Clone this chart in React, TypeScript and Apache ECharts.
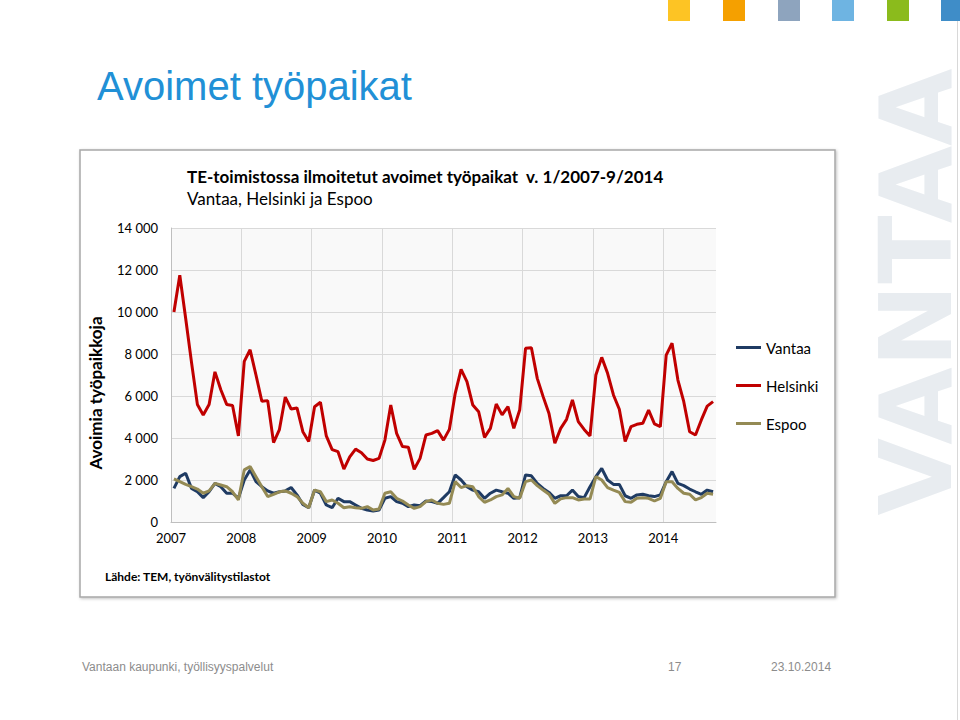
import React, { useEffect, useRef } from "react";
import * as echarts from "echarts";

const years = [2007, 2008, 2009, 2010, 2011, 2012, 2013, 2014];
const lastMonth2014 = 9;

const vantaa = [
  1600, 2160, 2320, 1600, 1440, 1160, 1440, 1840, 1680, 1370, 1370, 1130,
  2000, 2480, 1920, 1680, 1480, 1370, 1440, 1480, 1640, 1290, 840, 680,
  1520, 1370, 810, 680, 1130, 970, 970, 810, 650, 570, 520, 570,
  1130, 1210, 970, 890, 730, 810, 780, 1000, 970, 890, 1160, 1440,
  2240, 2000, 1680, 1520, 1440, 1130, 1370, 1520, 1440, 1370, 1130, 1160,
  2240, 2200, 1840, 1600, 1410, 1130, 1250, 1250, 1520, 1210, 1160, 1680,
  2160, 2550, 2000, 1790, 1790, 1250, 1130, 1290, 1320, 1250, 1210, 1290,
  1920, 2400, 1840, 1730, 1570, 1440, 1320, 1520, 1440,
];

const helsinki = [
  10000, 11750, 9700, 7600, 5600, 5100, 5600, 7150, 6300, 5600, 5550, 4100,
  7650, 8200, 7000, 5750, 5780, 3780, 4400, 5950, 5380, 5430, 4300, 3830,
  5490, 5700, 4100, 3450, 3350, 2520, 3100, 3470, 3300, 3000, 2930, 3030,
  3900, 5570, 4220, 3590, 3560, 2510, 3030, 4140, 4220, 4350, 3900, 4410,
  6130, 7270, 6680, 5570, 5250, 4030, 4460, 5620, 5100, 5490, 4460, 5330,
  8270, 8300, 6840, 5970, 5170, 3750, 4460, 4890, 5810, 4780, 4410, 4100,
  7000, 7840, 7080, 6050, 5370, 3830, 4540, 4650, 4700, 5330, 4670, 4540,
  7950, 8510, 6760, 5730, 4300, 4140, 4860, 5520, 5730,
];

const espoo = [
  2050, 1920, 1790, 1680, 1570, 1370, 1480, 1840, 1760, 1680, 1440, 1050,
  2480, 2640, 2160, 1680, 1210, 1320, 1440, 1480, 1370, 1210, 890, 680,
  1520, 1440, 970, 1050, 890, 680, 730, 680, 650, 730, 570, 620,
  1370, 1440, 1130, 1000, 810, 650, 730, 970, 1050, 890, 840, 890,
  1920, 1640, 1730, 1680, 1210, 940, 1050, 1210, 1290, 1600, 1210, 1130,
  1920, 2000, 1730, 1520, 1320, 890, 1100, 1160, 1160, 1050, 1100, 1100,
  2160, 2000, 1640, 1520, 1410, 970, 940, 1130, 1160, 1130, 1000, 1130,
  1920, 1920, 1600, 1370, 1320, 1050, 1160, 1370, 1320,
];

const yTicks = [0, 2000, 4000, 6000, 8000, 10000, 12000, 14000];

// month categories "1/2007" ... "9/2014"
const months: string[] = [];
years.forEach((y) => {
  const last = y === 2014 ? lastMonth2014 : 12;
  for (let m = 1; m <= last; m++) months.push(`${m}/${y}`);
});

const seriesNames = ["Vantaa", "Helsinki", "Espoo"];
const seriesColors = ["#1f3b63", "#c00000", "#948a54"];
const seriesData = [vantaa, helsinki, espoo];

const squareColors = ["#fdc424", "#f5a000", "#8ea4be", "#6eb4e2", "#8bbb1c", "#3f8dc8"];
const squareX = [668, 723, 778, 832, 887, 941];

const fmtThousands = (v: number) =>
  String(v).replace(/\B(?=(\d{3})+(?!\d))/g, " ");

const CHART_FONT = "Lato";

export default function App() {
  const ref = useRef<HTMLDivElement>(null);
  useEffect(() => {
    if (!ref.current) return;
    const chart = echarts.init(ref.current, undefined, { renderer: "svg" });
    const graphics: any[] = [
      // chart frame
      {
        type: "rect",
        z: -10,
        shape: { x: 80, y: 150, width: 755, height: 447 },
        style: {
          fill: "#ffffff",
          stroke: "#a8a8a8",
          lineWidth: 1.5,
          shadowBlur: 3,
          shadowColor: "rgba(0,0,0,0.25)",
          shadowOffsetX: 1,
          shadowOffsetY: 1,
        },
      },
      // watermark
      {
        type: "text",
        z: -20,
        x: 916,
        y: 292,
        rotation: Math.PI / 2,
        style: {
          text: "VANTAA",
          fill: "#e8ecf0",
          font: "bold 100px 'DejaVu Sans', sans-serif",
          lineHeight: 76,
          align: "center",
          verticalAlign: "middle",
        },
      },
      {
        type: "line",
        z: -20,
        shape: { x1: 957.5, y1: 0, x2: 957.5, y2: 720 },
        style: { stroke: "#d8d8d8", lineWidth: 1 },
      },
      // slide title
      {
        type: "text",
        x: 97,
        y: 66,
        style: {
          text: "Avoimet työpaikat",
          fill: "#2190d6",
          font: "40px 'Liberation Sans', Arial, sans-serif",
          verticalAlign: "top",
        },
      },
      // chart titles
      {
        type: "text",
        x: 187,
        y: 168,
        style: {
          text: "TE-toimistossa ilmoitetut avoimet työpaikat  v. 1/2007-9/2014",
          fill: "#000000",
          font: `bold 17px ${CHART_FONT}, sans-serif`,
          verticalAlign: "top",
        },
      },
      {
        type: "text",
        x: 187,
        y: 190,
        style: {
          text: "Vantaa, Helsinki ja Espoo",
          fill: "#000000",
          font: `17px ${CHART_FONT}, sans-serif`,
          verticalAlign: "top",
        },
      },
      // y axis title
      {
        type: "text",
        x: 95,
        y: 393,
        rotation: Math.PI / 2,
        style: {
          text: "Avoimia työpaikkoja",
          fill: "#000000",
          font: `bold 17px ${CHART_FONT}, sans-serif`,
          align: "center",
          verticalAlign: "middle",
        },
      },
      // source
      {
        type: "text",
        x: 105,
        y: 570,
        style: {
          text: "Lähde: TEM, työnvälitystilastot",
          fill: "#000000",
          font: `bold 12px ${CHART_FONT}, sans-serif`,
          verticalAlign: "top",
        },
      },
      // footer
      {
        type: "text",
        x: 82,
        y: 661,
        style: {
          text: "Vantaan kaupunki, työllisyyspalvelut",
          fill: "#8c8c8c",
          font: "12px 'Liberation Sans', Arial, sans-serif",
          verticalAlign: "top",
        },
      },
      {
        type: "text",
        x: 668,
        y: 661,
        style: {
          text: "17",
          fill: "#8c8c8c",
          font: "12px 'Liberation Sans', Arial, sans-serif",
          verticalAlign: "top",
        },
      },
      {
        type: "text",
        x: 771,
        y: 661,
        style: {
          text: "23.10.2014",
          fill: "#8c8c8c",
          font: "12px 'Liberation Sans', Arial, sans-serif",
          verticalAlign: "top",
        },
      },
    ];
    squareColors.forEach((c, i) => {
      graphics.push({
        type: "rect",
        shape: { x: squareX[i], y: 0, width: 22, height: 21 },
        style: { fill: c },
      });
    });

    chart.setOption({
      animation: false,
      backgroundColor: "#ffffff",
      textStyle: { fontFamily: CHART_FONT },
      grid: {
        left: 171,
        right: 244,
        top: 228,
        bottom: 198,
        show: true,
        backgroundColor: "#f9f9f9",
        borderWidth: 0,
      },
      legend: {
        orient: "vertical",
        left: 736,
        top: 340,
        padding: 0,
        itemWidth: 25,
        itemHeight: 3,
        itemGap: 23,
        icon: "rect",
        data: seriesNames,
        textStyle: { fontSize: 15, color: "#000000", fontFamily: CHART_FONT },
      },
      xAxis: {
        type: "value",
        min: 0,
        max: months.length,
        interval: 12,
        axisLine: { show: true, lineStyle: { color: "#bfbfbf", width: 1 } },
        axisTick: { show: false },
        splitLine: {
          show: true,
          showMaxLine: false,
          lineStyle: { color: "#d9d9d9", width: 1 },
        },
        axisLabel: {
          margin: 9,
          fontSize: 13,
          color: "#000000",
          showMaxLabel: false,
          formatter: (v: number) => (v % 12 === 0 ? String(years[v / 12]) : ""),
        },
      },
      yAxis: {
        type: "value",
        min: yTicks[0],
        max: yTicks[yTicks.length - 1],
        interval: yTicks[1] - yTicks[0],
        axisLine: { show: true, lineStyle: { color: "#bfbfbf", width: 1 } },
        axisTick: { show: false },
        splitLine: { show: true, lineStyle: { color: "#d9d9d9", width: 1 } },
        axisLabel: {
          margin: 13,
          fontSize: 13,
          color: "#000000",
          formatter: (v: number) => fmtThousands(v),
        },
      },
      series: seriesNames.map((name, si) => ({
        name,
        type: "line",
        showSymbol: false,
        symbol: "none",
        color: seriesColors[si],
        lineStyle: { color: seriesColors[si], width: 3 },
        data: seriesData[si].map((v, i) => [i + 0.5, v]),
      })),
      graphic: graphics,
    });
    return () => chart.dispose();
  }, []);
  return (
    <div
      ref={ref}
      style={{ position: "fixed", left: 0, top: 0, width: 960, height: 720 }}
    />
  );
}
